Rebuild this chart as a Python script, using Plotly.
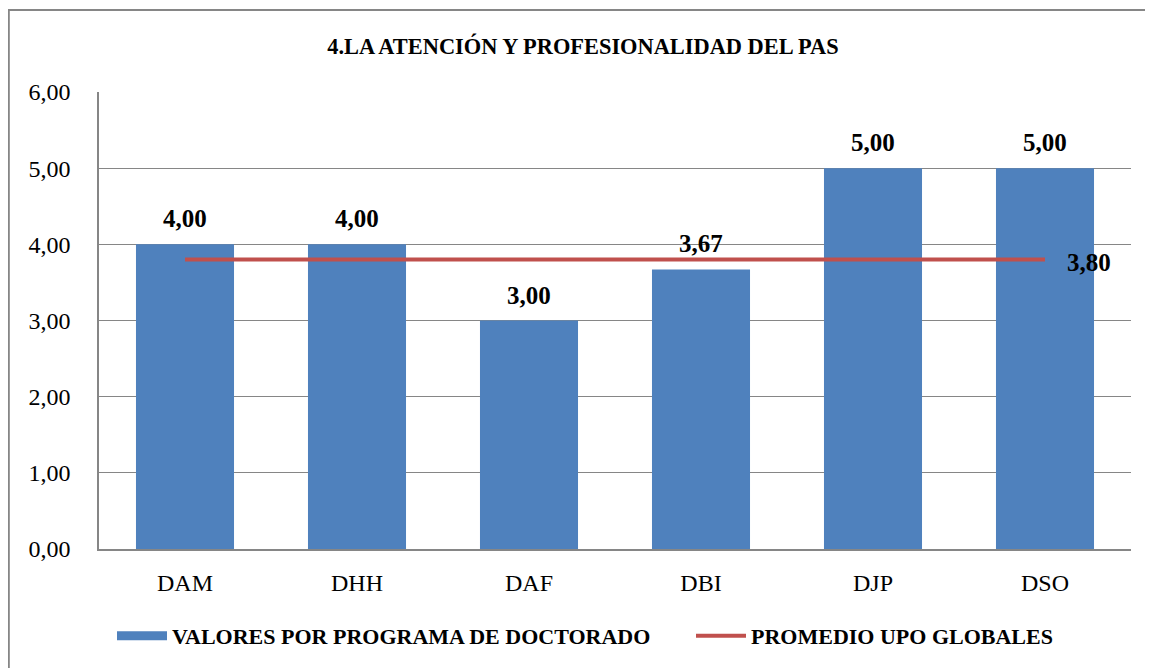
import plotly.graph_objects as go

categories = ["DAM", "DHH", "DAF", "DBI", "DJP", "DSO"]
valores = [4.00, 4.00, 3.00, 3.67, 5.00, 5.00]
promedio = [3.80, 3.80, 3.80, 3.80, 3.80, 3.80]
y_ticks = [0, 1, 2, 3, 4, 5, 6]

FONT = "Liberation Serif"
BLUE = "#4F81BD"
RED = "#C0504D"
GRID = "#868686"

W, H = 1145, 660
L, R, T, B = 91, 22, 84, 119
PW, PH = W - L - R, H - T - B

def fmt(v):
    return f"{v:.2f}".replace(".", ",")

fig = go.Figure()
fig.add_trace(go.Bar(
    x=categories, y=valores, name="VALORES POR PROGRAMA DE DOCTORADO",
    marker=dict(color=BLUE, line=dict(width=0)),
    showlegend=False,
))
# legend proxy for the bars (wide rectangle symbol)
fig.add_trace(go.Scatter(
    x=[None], y=[None], mode="lines", name="VALORES POR PROGRAMA DE DOCTORADO",
    line=dict(color=BLUE, width=9), legend="legend",
))
fig.add_trace(go.Scatter(
    x=categories, y=promedio, name="PROMEDIO UPO GLOBALES",
    mode="lines",
    line=dict(color=RED, width=4), legend="legend2",
))

annotations = []
for c, v in zip(categories, valores):
    annotations.append(dict(x=c, y=v, xref="x", yref="y", text=fmt(v),
                            showarrow=False, yanchor="bottom", yshift=10,
                            font=dict(family=FONT, size=25, color="black", weight="bold")))
annotations.append(dict(x=categories[-1], y=promedio[-1], xref="x", yref="y",
                        text=fmt(promedio[-1]), showarrow=False,
                        xanchor="left", xshift=20, yanchor="middle", yshift=-3,
                        font=dict(family=FONT, size=25, color="black", weight="bold")))

legend_font = dict(family=FONT, size=22, color="black", weight="bold")
fig.update_layout(
    width=W, height=H,
    margin=dict(l=L, r=R, t=T, b=B),
    paper_bgcolor="white", plot_bgcolor="white",
    separators=",.",
    bargap=0.43,
    title=dict(text="<b>4.LA ATENCIÓN Y PROFESIONALIDAD DEL PAS</b>",
               x=(583 - 8) / W, xref="container", xanchor="center",
               y=1 - 38 / H, yref="container", yanchor="middle",
               font=dict(family=FONT, size=22.4, color="black")),
    font=dict(family=FONT, color="black"),
    legend=dict(orientation="h", x=(112 - 8) / W, xanchor="left", xref="container",
                y=1 - (636 - 8) / H, yanchor="middle", yref="container",
                font=legend_font, itemwidth=50),
    legend2=dict(orientation="h", x=(691 - 8) / W, xanchor="left", xref="container",
                 y=1 - (636 - 8) / H, yanchor="middle", yref="container",
                 font=legend_font, itemwidth=50),
    xaxis=dict(showline=True, linecolor=GRID, linewidth=1.5,
               tickfont=dict(family=FONT, size=24), ticks="", ticklabelstandoff=11),
    yaxis=dict(range=[0, 6], tickvals=y_ticks, tickformat=".2f",
               showline=True, linecolor=GRID, linewidth=1.5,
               gridcolor=GRID, gridwidth=1.2,
               tickfont=dict(family=FONT, size=24), ticks="", ticklabelstandoff=22,
               zeroline=False),
    annotations=annotations,
    shapes=[dict(type="rect", xref="paper", yref="paper",
                 x0=(0.8 - L) / PW, x1=1.2, y0=-0.5, y1=1 + (T - 2) / PH,
                 line=dict(color=GRID, width=2), fillcolor="rgba(0,0,0,0)",
                 layer="below")],
)

fig.write_html("out.html")
